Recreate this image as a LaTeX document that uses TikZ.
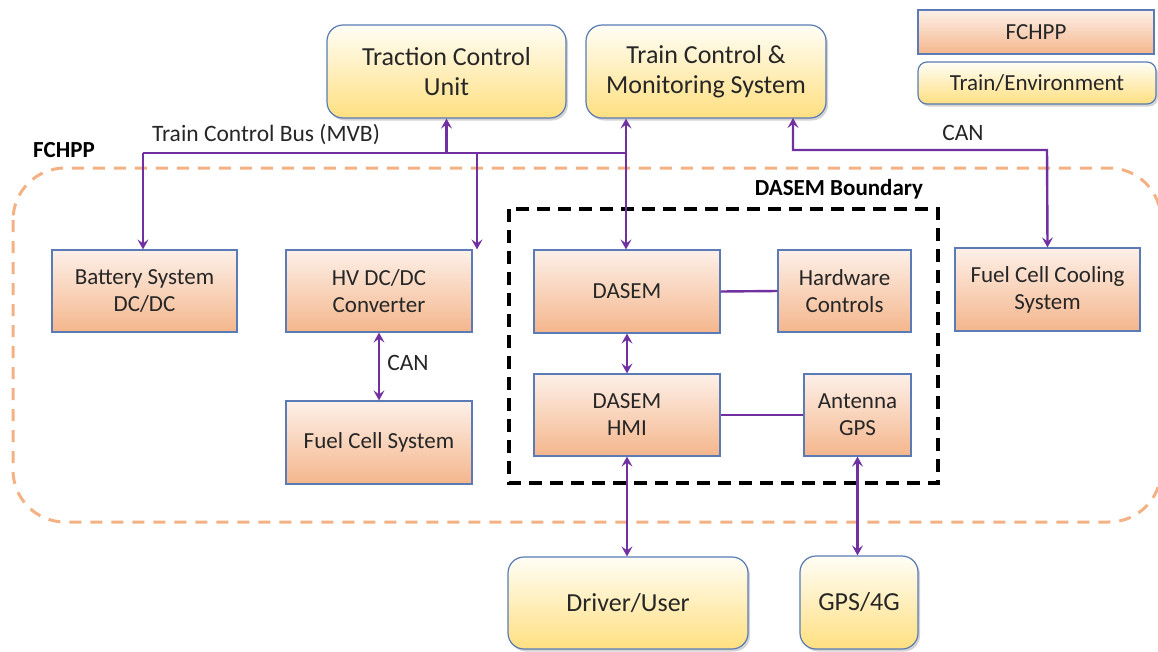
\documentclass[tikz,border=0pt]{standalone}
\usepackage{fontspec}
\setmainfont{Carlito}
\usetikzlibrary{arrows.meta,shadows,calc}
\definecolor{pur}{HTML}{7030A0}
\definecolor{bord}{HTML}{5A7BB5}
\definecolor{otop}{HTML}{FDF0E8}
\definecolor{obot}{HTML}{F4B68C}
\definecolor{ytop}{HTML}{FFFEF6}
\definecolor{ybot}{HTML}{FFDF80}
\definecolor{odash}{HTML}{F4B183}
\definecolor{txt}{HTML}{262626}
\tikzset{
  obox/.style={draw=bord, line width=1.2pt, top color=otop, bottom color=obot,
    align=center, inner sep=2pt, text=txt, font=\fontsize{23}{27}\selectfont},
  ybox/.style={draw=bord, line width=1.2pt, top color=ytop, bottom color=ybot,
    rounded corners=16pt, align=center, inner sep=2pt, text=txt,
    font=\fontsize{26}{30}\selectfont,
    drop shadow={opacity=0.35, shadow xshift=2pt, shadow yshift=-2.5pt}},
  conn/.style={draw=pur, line width=2.4pt},
  arr/.style={conn, -{Stealth[length=10pt,width=11pt,inset=4pt]}},
  arrb/.style={conn, {Stealth[length=10pt,width=11pt,inset=4pt]}-{Stealth[length=10pt,width=11pt,inset=4pt]}},
  lbl/.style={text=txt, font=\fontsize{23.5}{27}\selectfont, inner sep=0pt},
  blbl/.style={text=black, font=\bfseries\fontsize{23}{27}\selectfont, inner sep=0pt}
}
\begin{document}
\begin{tikzpicture}[x=1pt,y=-1pt]
\useasboundingbox (0,0) rectangle (1158,651);
\begin{scope}
\clip (0,0) rectangle (1158,651);
% FCHPP boundary
\draw[odash, line width=3pt, dash pattern=on 12pt off 9pt, rounded corners=52pt] (13,168) rectangle (1161,522);
\end{scope}
% DASEM boundary
\draw[black, line width=3.5pt, dash pattern=on 13pt off 8pt] (509,209) rectangle (938,483);

% top boxes
\node[ybox, minimum width=239pt, minimum height=93pt] (TCU) at (446.5,71.5) {Traction Control\\Unit};
\node[ybox, minimum width=240pt, minimum height=93pt] (TCMS) at (706,71.5) {Train Control \&\\Monitoring System};
% legend
\node[obox, rounded corners=0pt, minimum width=236pt, minimum height=44pt] (legF) at (1036,32) {FCHPP};
\node[ybox, rounded corners=9pt, font=\fontsize{23}{27}\selectfont, minimum width=238pt, minimum height=42pt] (legT) at (1037,83) {Train/Environment};

% orange boxes
\node[obox, minimum width=185pt, minimum height=82pt] (BAT) at (144.5,291) {Battery System\\DC/DC};
\node[obox, minimum width=186pt, minimum height=82pt] (HV) at (379,291) {HV DC/DC\\Converter};
\node[obox, minimum width=186pt, minimum height=83pt] (FCS) at (379,442.5) {Fuel Cell System};
\node[obox, minimum width=186pt, minimum height=83pt] (DASEM) at (627,291.5) {DASEM};
\node[obox, minimum width=133pt, minimum height=82pt] (HW) at (844.5,291) {Hardware\\Controls};
\node[obox, minimum width=186pt, minimum height=82pt] (HMI) at (627,415) {DASEM\\HMI};
\node[obox, minimum width=107pt, minimum height=82pt] (ANT) at (857.5,415) {Antenna\\GPS};
\node[obox, minimum width=185pt, minimum height=83pt] (FCCS) at (1047.5,289.5) {Fuel Cell Cooling\\System};

% bottom boxes
\node[ybox, minimum width=240pt, minimum height=92pt] (DRV) at (628,603) {Driver/User};
\node[ybox, minimum width=118pt, minimum height=93pt] (GPS) at (859,602.5) {GPS/4G};

% labels
\node[lbl] (busl) at (266,135) {Train Control Bus (MVB)};
\node[lbl] (canl) at (963,133) {CAN};
\node[lbl] (can2) at (408,363) {CAN};
\node[blbl] (fchppl) at (64,150) {FCHPP};
\node[blbl] (dasembl) at (839,189) {DASEM Boundary};

% bus
\coordinate (busL) at (143,153);
\coordinate (busR) at (626,153);
\coordinate (hvtap) at (477,153);
\draw[conn] (busL) -- (busR);
\draw[arr] (busL) -- (busL |- BAT.north);
\draw[arr] (hvtap) -- (hvtap |- HV.north);
\draw[arr] (TCU.south |- busL) -- (TCU.south);
\draw[arrb] (busR |- TCMS.south) -- (busR |- DASEM.north);

% CAN to cooling
\coordinate (cantap) at (793,118);
\draw[arrb] (cantap) |- (1047,150) -- (FCCS.north);

% other links
\draw[arrb] (HV.south) -- (FCS.north);
\draw[arrb] (DASEM.south) -- (HMI.north);
\draw[arrb] (HMI.south) -- (HMI.south |- DRV.north);
\draw[arrb] (ANT.south) -- (ANT.south |- GPS.north);
\draw[conn] (DASEM.east) -- (HW.west);
\draw[conn] (HMI.east) -- (ANT.west);
\end{tikzpicture}
\end{document}
